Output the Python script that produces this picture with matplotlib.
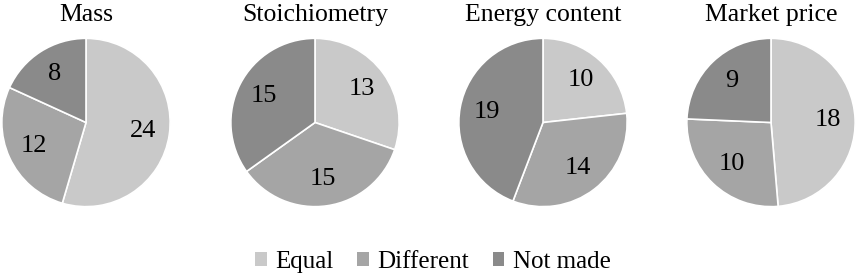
import matplotlib.pyplot as plt
from matplotlib.patches import Patch

plt.rcParams['font.family'] = ['Liberation Serif', 'DejaVu Serif']

titles = ['Mass', 'Stoichiometry', 'Energy content', 'Market price']
categories = ['Equal', 'Different', 'Not made']
equal = [24, 13, 10, 18]
different = [12, 15, 14, 10]
not_made = [8, 15, 19, 9]
colors = ['#c9c9c9', '#a5a5a5', '#8a8a8a']

W, H = 858, 277
fig = plt.figure(figsize=(W / 100, H / 100), dpi=100)

centers_x = [86, 315, 543, 771]
r = 85
cy = 122.5

for i, title in enumerate(titles):
    ax = fig.add_axes([(centers_x[i] - r) / W, (H - cy - r) / H, 2 * r / W, 2 * r / H])
    vals = [equal[i], different[i], not_made[i]]
    wedges, texts = ax.pie(vals, colors=colors, startangle=90, counterclock=False,
                           radius=1, labels=[str(v) for v in vals], labeldistance=0.68,
                           wedgeprops=dict(edgecolor='white', linewidth=1.2),
                           textprops=dict(fontsize=19))
    for t in texts:
        t.set_ha('center')
        t.set_va('center')
    ax.set_xlim(-1.01, 1.01)
    ax.set_ylim(-1.01, 1.01)
    ax.set_aspect('equal')
    fig.text(centers_x[i] / W, 1 - 15 / H, title, ha='center', va='center', fontsize=18.5)

handles = [Patch(facecolor=c, edgecolor='none') for c in colors]
fig.legend(handles, categories, loc='center', bbox_to_anchor=(433 / W, 1 - 262 / H),
           ncol=3, frameon=False, fontsize=18, handlelength=0.45, handleheight=0.45,
           handletextpad=0.35, columnspacing=0.95)

fig.savefig('out.png', dpi=100)
